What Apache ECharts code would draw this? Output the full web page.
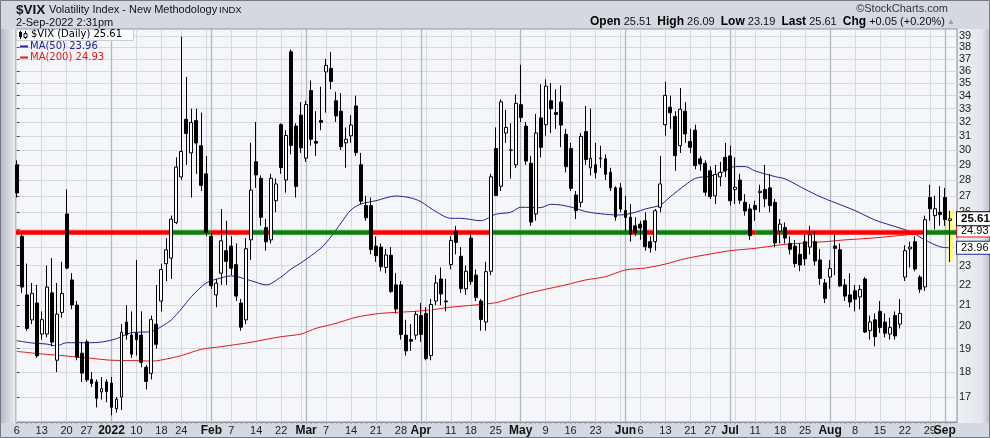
<!DOCTYPE html>
<html><head><meta charset="utf-8">
<script src="https://cdn.jsdelivr.net/npm/echarts@6/dist/echarts.min.js"></script>
<style>html,body{margin:0;padding:0;background:#d4d8e0}#c{width:990px;height:438px}</style>
</head><body><div id="c"></div><script>
// ---- data ----
const dates = ['2021-12-06','12-07','12-08','12-09','12-10','12-13','12-14','12-15','12-16','12-17','12-20','12-21','12-22','12-23','12-27','12-28','12-29','12-30','12-31',
'2022-01-03','01-04','01-05','01-06','01-07','01-10','01-11','01-12','01-13','01-14','01-18','01-19','01-20','01-21','01-24','01-25','01-26','01-27','01-28','01-31',
'02-01','02-02','02-03','02-04','02-07','02-08','02-09','02-10','02-11','02-14','02-15','02-16','02-17','02-18','02-22','02-23','02-24','02-25','02-28',
'03-01','03-02','03-03','03-04','03-07','03-08','03-09','03-10','03-11','03-14','03-15','03-16','03-17','03-18','03-21','03-22','03-23','03-24','03-25','03-28','03-29','03-30','03-31',
'04-01','04-04','04-05','04-06','04-07','04-08','04-11','04-12','04-13','04-14','04-18','04-19','04-20','04-21','04-22','04-25','04-26','04-27','04-28','04-29',
'05-02','05-03','05-04','05-05','05-06','05-09','05-10','05-11','05-12','05-13','05-16','05-17','05-18','05-19','05-20','05-23','05-24','05-25','05-26','05-27','05-31',
'06-01','06-02','06-03','06-06','06-07','06-08','06-09','06-10','06-13','06-14','06-15','06-16','06-17','06-21','06-22','06-23','06-24','06-27','06-28','06-29','06-30',
'07-01','07-05','07-06','07-07','07-08','07-11','07-12','07-13','07-14','07-15','07-18','07-19','07-20','07-21','07-22','07-25','07-26','07-27','07-28','07-29',
'08-01','08-02','08-03','08-04','08-05','08-08','08-09','08-10','08-11','08-12','08-15','08-16','08-17','08-18','08-19','08-22','08-23','08-24','08-25','08-26','08-29','08-30','08-31',
'09-01','09-02'];

const open = [29.0,24.6,21.5,20.3,21.1,19.65,19.65,21.6,18.5,20.65,25.9,22.25,21.0,18.8,19.3,17.7,17.6,17.2,17.6,
17.55,16.55,17.0,20.2,19.6,19.7,19.6,18.2,17.95,20.1,21.2,23.1,23.4,25.4,28.2,32.2,29.8,32.1,30.3,28.4,
24.6,21.5,22.6,23.8,24.05,23.05,21.1,20.3,24.4,29.2,28.1,25.1,24.4,26.7,31.8,28.0,37.6,31.7,32.5,
29.45,34.4,30.6,32.1,35.9,36.2,33.6,32.8,30.5,31.0,33.2,29.0,26.4,26.4,24.05,24.0,22.9,23.55,22.0,22.0,19.6,19.4,19.6,
20.5,20.6,18.7,21.2,22.3,21.2,23.05,24.9,23.5,21.8,24.5,22.5,21.2,20.2,22.7,30.1,27.6,31.2,30.0,29.0,
33.3,31.7,29.1,25.9,32.3,31.8,33.6,32.7,33.5,31.1,30.1,27.05,26.6,31.3,28.8,29.0,29.4,29.4,28.5,27.5,27.5,
26.1,25.7,25.2,25.3,25.5,24.3,24.3,26.3,31.8,33.1,32.4,30.3,32.8,30.6,31.4,29.4,29.1,28.6,27.0,28.2,29.5,
29.6,27.4,28.0,26.6,26.2,26.4,27.2,27.4,27.5,26.6,24.9,25.1,24.2,24.05,23.6,24.3,24.0,24.3,23.3,22.1,
22.4,24.06,23.85,22.0,21.5,21.7,21.4,22.3,19.8,20.3,20.7,20.2,19.65,20.5,20.1,22.4,23.9,24.3,22.4,21.9,26.9,25.8,26.0,
26.9,25.51];
const high = [29.3,24.8,23.1,22.1,22.0,20.7,23.0,23.4,22.1,23.2,27.4,22.6,21.2,19.3,19.4,18.0,17.7,17.8,17.7,
17.8,17.0,20.1,21.0,20.7,23.3,20.7,18.3,20.5,22.0,23.1,24.5,25.8,29.5,38.94,35.5,33.0,33.0,32.7,29.6,
24.8,22.3,26.2,25.5,24.6,24.2,21.3,24.5,30.5,32.0,28.3,25.6,28.4,28.1,31.9,31.4,37.8,31.9,33.5,
33.6,35.2,32.8,34.7,37.0,37.6,34.3,34.2,31.6,32.5,34.0,29.8,27.0,26.9,24.6,24.2,23.9,24.0,22.6,22.2,20.3,20.1,20.7,
21.1,20.9,21.3,22.5,22.9,22.3,24.6,25.2,24.0,23.0,24.8,22.8,21.3,23.2,28.4,31.6,33.7,32.9,31.9,34.1,
36.5,32.0,29.6,32.6,34.9,35.3,35.0,34.5,34.8,31.5,30.5,27.3,31.2,33.2,33.0,30.5,30.3,29.7,28.8,27.6,27.8,
27.0,26.5,25.7,25.5,26.0,24.6,26.2,29.6,35.1,34.0,32.8,34.6,33.5,31.5,31.8,29.6,29.3,28.9,29.0,29.2,30.5,
30.3,29.5,28.4,27.1,26.5,26.7,27.7,29.0,28.4,26.8,25.6,25.4,24.6,24.4,24.2,24.7,25.2,24.9,23.9,22.3,
23.3,24.7,24.2,22.3,22.6,22.0,22.0,22.4,20.5,20.6,21.2,20.6,20.4,20.7,21.3,24.1,24.3,24.6,22.5,25.8,27.7,27.0,27.6,
27.5,26.09];
const low = [26.9,21.6,19.8,20.1,18.6,19.4,19.5,19.1,18.0,20.4,22.8,20.8,18.5,17.6,17.6,17.4,16.6,16.9,16.8,
16.3,16.4,16.5,19.4,18.6,18.7,18.2,17.3,17.7,19.0,20.7,22.2,22.3,25.3,28.0,29.0,26.9,28.4,27.3,24.6,
21.8,20.9,22.0,22.0,22.5,21.2,19.8,20.1,23.3,27.5,25.2,23.8,24.2,26.0,28.4,27.2,29.7,26.9,29.8,
29.2,30.3,29.6,31.4,32.7,34.5,32.0,30.0,28.8,30.5,29.6,26.5,25.5,23.6,23.2,22.7,22.6,21.6,20.6,19.4,18.7,18.9,19.4,
19.3,18.5,18.5,21.0,21.0,20.7,22.8,23.6,21.6,21.5,22.0,21.2,19.8,19.8,22.5,27.0,27.3,30.5,28.1,28.8,
32.0,29.0,25.2,25.5,29.5,31.0,31.2,31.5,30.2,28.5,27.3,25.6,26.3,29.0,28.3,28.1,28.8,28.0,27.3,25.5,26.0,
24.9,24.3,24.6,24.4,23.8,23.7,23.8,26.0,31.0,31.5,28.6,29.8,30.5,29.8,28.7,28.6,27.0,26.8,26.5,27.6,28.2,
26.4,26.5,26.5,25.8,24.4,25.5,26.0,26.3,26.0,24.0,24.2,24.2,23.6,22.9,22.7,23.0,23.6,23.0,22.0,21.1,
21.8,22.5,21.9,21.2,20.9,20.7,20.8,19.7,19.4,19.1,19.7,19.5,19.4,19.4,19.9,22.2,22.9,22.7,21.6,21.7,25.5,25.0,25.2,
25.2,23.19];
const close = [27.18,21.89,19.90,21.58,18.69,20.31,21.89,19.29,20.57,21.57,22.87,21.01,18.63,17.96,17.68,17.54,16.95,17.33,17.22,
16.60,16.91,19.73,19.61,18.76,19.40,18.41,17.62,20.31,19.19,22.79,23.85,25.59,28.85,29.90,31.16,31.96,30.49,27.66,24.83,
21.96,22.09,24.35,23.22,22.86,21.44,19.96,23.91,27.36,28.33,25.70,24.29,28.11,27.75,28.81,31.02,30.32,27.59,30.15,
33.32,30.75,30.48,31.98,36.45,35.13,32.45,30.23,30.75,31.77,29.83,26.67,25.67,23.87,23.53,22.94,23.57,21.67,20.81,19.63,18.90,19.33,20.56,
19.63,18.57,21.03,22.10,21.55,21.16,24.37,24.26,21.82,22.70,22.17,21.37,20.32,22.68,28.21,27.02,33.52,31.60,29.99,33.40,
32.34,29.25,25.42,31.20,30.19,34.75,32.99,32.56,31.77,28.87,27.47,26.10,30.96,29.35,29.43,28.48,29.45,28.37,27.50,25.72,26.19,
25.69,24.72,24.79,25.07,24.02,23.96,26.09,27.75,34.02,32.69,29.62,32.95,31.13,30.19,28.95,29.05,27.23,26.95,28.36,28.50,28.60,
26.70,27.54,26.73,26.08,24.64,26.17,27.29,26.82,26.40,24.23,25.30,24.50,23.88,23.11,23.03,23.36,24.69,23.24,22.33,21.33,
22.84,23.93,21.95,21.44,21.15,21.29,21.77,19.74,20.20,19.53,19.95,19.69,19.95,19.56,20.60,23.80,24.00,22.82,21.78,25.56,26.21,26.21,25.87,
25.56,25.61];

// moving averages, read at sampled trading-day positions
const ma50Idx = [0,3,6,8,10,14,17,20,23,27,29,31,33,35,38,41,43,47,50,53,55,57,61,63,65,67,69,72,76,79,81,84,87,89,93,96,99,101,105,107,109,112,114,118,121,124,126,129,131,134,136,139,141,144,146,148,152,154,158,161,164,168,172,175,179,182,185,187];
const ma50Val = [19.35,19.25,19.20,19.12,19.26,19.26,19.29,19.44,19.71,19.76,19.99,20.30,20.82,21.41,22.10,22.36,22.46,22.21,22.00,22.41,22.82,23.15,23.95,24.58,25.37,26.14,26.50,26.70,26.99,26.87,26.64,26.04,25.64,25.64,25.50,25.88,26.00,26.30,26.28,26.48,26.44,26.24,26.04,25.88,25.84,26.00,26.20,26.44,26.95,27.69,28.11,28.26,28.44,28.88,28.88,28.59,28.22,28.07,27.41,26.95,26.58,26.10,25.54,25.25,24.87,24.40,24.02,23.96];
const ma200Idx = [0,5,10,15,19,25,27,29,33,37,41,47,50,53,57,60,64,68,72,75,79,83,87,92,96,99,102,106,110,114,118,122,126,130,134,139,143,148,153,157,162,166,171,176,180,183,187];
const ma200Val = [18.88,18.77,18.68,18.58,18.50,18.48,18.46,18.51,18.70,18.97,19.09,19.28,19.41,19.53,19.65,19.91,20.14,20.42,20.58,20.64,20.69,20.77,20.90,21.01,21.12,21.33,21.55,21.78,22.00,22.25,22.42,22.77,22.87,23.08,23.37,23.62,23.80,23.93,24.12,24.21,24.30,24.40,24.49,24.62,24.73,24.83,24.93];

// horizontal level line (red = below / green = above)
const levelValue = 24.82;
const levelFrom = [-0.14,30.9,38.9,46.9,49.8,50.9,70.9,95.05,123.0,124.0,126.0,128.1,147.3,148.1,152.1,153.1,154.1,182.2];
const levelTo   = [30.9,38.9,46.9,49.8,50.9,70.9,95.05,123.0,124.0,126.0,128.1,147.3,148.1,152.1,153.1,154.1,182.2,188.44];
const levelIsGreen = [0,1,0,1,0,1,0,1,0,1,0,1,0,1,0,1,0,1];

// axis ticks
const weekLabelIdx  = [0,5,10,14,24,29,33,43,48,53,62,67,72,77,87,91,96,106,111,116,125,130,135,139,148,153,158,168,173,178,183];
const weekLabelText = ['6','13','20','27','10','18','24','7','14','22','7','14','21','28','11','18','25','9','16','23','6','13','21','27','11','18','25','8','15','22','29'];
const monthStarts = [19,39,58,81,101,122,143,163,186];
const monthText   = ['2022','Feb','Mar','Apr','May','Jun','Jul','Aug','Sep'];
const weekStarts = [0,5,10,14,19,24,29,33,38,43,48,53,57,62,67,72,77,82,87,91,96,101,106,111,116,121,125,130,135,139,144,148,153,158,163,168,173,178,183];
const yTicks = [17,18,19,20,21,22,23,24,25,26,27,28,29,30,31,32,33,34,35,36,37,38,39];
const yLabels = [17,18,19,20,21,22,23,26,27,28,29,30,31,32,33,34,35,36,37,38,39];

const lastClose = 25.61, ma50Last = 23.96, ma200Last = 24.93;

// ---- chart ----
const X_MIN = -0.14, X_MAX = 188.44, Y_MIN = 16.05, Y_MAX = 39.63;
const FONT = 'Liberation Sans, Arial, sans-serif';
const chart = echarts.init(document.getElementById('c'), null, {renderer: 'canvas', width: 990, height: 438});
const candleData = close.map((c, i) => [i, open[i], c, low[i], high[i]]);

function tag(value, color, bold) {
  return {
    silent: true, symbol: ['none', 'none'], animation: false,
    lineStyle: {color: 'rgba(0,0,0,0)', width: 1},
    label: {show: true, position: 'end', distance: 0, formatter: value.toFixed(2),
      color: '#000', fontSize: bold ? 11.5 : 11, fontWeight: bold ? 'bold' : 'normal', fontFamily: FONT,
      backgroundColor: '#ffffff', borderColor: color, borderWidth: 1, padding: [1, 2, 0, 4]},
    data: [{yAxis: value}]
  };
}

const levelSegments = levelFrom.map((f, k) => [
  {coord: [f, levelValue], lineStyle: {color: levelIsGreen[k] ? '#078207' : '#ff0000', width: 4.5, type: 'solid'}},
  {coord: [levelTo[k], levelValue]}
]);

const xBase = {type: 'value', min: X_MIN, max: X_MAX, gridIndex: 0, position: 'bottom'};

const option = {
  animation: false,
  backgroundColor: '#d4d8e0',
  grid: {left: 16, right: 33, top: 29, bottom: 16, show: true, backgroundColor: '#f4f6fa', borderColor: '#8e939e', borderWidth: 1},
  xAxis: [
    Object.assign({}, xBase, {
      axisLine: {show: true, lineStyle: {color: '#8e939e'}},
      axisTick: {show: false, customValues: weekStarts},
      splitLine: {show: true, lineStyle: {color: '#d6d9e0', width: 1}},
      axisLabel: {show: true, customValues: weekLabelIdx, margin: 3, color: '#222', fontSize: 11, fontFamily: FONT,
        hideOverlap: false,
        formatter: function (v) {
          const k = weekLabelIdx.indexOf(Math.round(v));
          return k < 0 ? '' : weekLabelText[k];
        }}
    }),
    Object.assign({}, xBase, {
      axisLine: {show: false},
      axisTick: {show: false, customValues: monthStarts},
      splitLine: {show: true, lineStyle: {color: '#b3b7c1', width: 1.3}},
      axisLabel: {show: true, customValues: monthStarts, margin: 3, color: '#111', fontSize: 12, fontWeight: 'bold', fontFamily: FONT,
        hideOverlap: false,
        formatter: function (v) {
          const k = monthStarts.indexOf(Math.round(v));
          return k < 0 ? '' : monthText[k];
        }}
    }),
    Object.assign({}, xBase, {
      axisLine: {show: false}, axisLabel: {show: false}, splitLine: {show: false},
      axisTick: {show: true, customValues: candleData.map(d => d[0]), length: 2, lineStyle: {color: '#9aa0aa'}}
    })
  ],
  yAxis: {
    type: 'log', logBase: 10, min: Y_MIN, max: Y_MAX, position: 'right',
    axisLine: {show: false},
    axisTick: {show: true, customValues: yTicks, length: 3, lineStyle: {color: '#555'}},
    splitLine: {show: true, lineStyle: {color: '#d6d9e0', width: 1}},
    axisLabel: {customValues: yLabels, margin: 2, color: '#222', fontSize: 11, fontFamily: FONT, hideOverlap: false,
      formatter: v => String(Math.round(v))}
  },
  series: [
    {name: 'MA(200)', type: 'line', data: ma200Idx.map((x, k) => [x, ma200Val[k]]), symbol: 'none', smooth: 0.3,
      lineStyle: {color: '#e01818', width: 1}, z: 2, markLine: tag(ma200Last, '#e01818', false)},
    {name: 'MA(50)', type: 'line', data: ma50Idx.map((x, k) => [x, ma50Val[k]]), symbol: 'none', smooth: 0.3,
      lineStyle: {color: '#22228f', width: 1}, z: 2, markLine: tag(ma50Last, '#22228f', false)},
    {name: 'level', type: 'line', data: [], z: 3,
      markLine: {silent: true, symbol: ['none', 'none'], label: {show: false}, data: levelSegments}},
    {name: 'highlight', type: 'line', data: [], z: 4,
      markArea: {silent: true, itemStyle: {color: '#ffff66', opacity: 1},
        data: [[{xAxis: 186.7, yAxis: high[187]}, {xAxis: 187.6, yAxis: low[187]}]]}},
    {name: '$VIX', type: 'candlestick', data: candleData, z: 5,
      dimensions: ['idx', 'open', 'close', 'lowest', 'highest'],
      encode: {x: 0, y: [1, 2, 3, 4]},
      barWidth: 3.4,
      itemStyle: {color: '#ffffff', color0: '#000000', borderColor: '#000000', borderColor0: '#000000', borderWidth: 1},
      markLine: tag(lastClose, '#000000', true)}
  ],
  graphic: [
    {type: 'rect', z: -5, silent: true, shape: {x: 958, y: 29, width: 32, height: 394},
      style: {fill: new echarts.graphic.LinearGradient(0, 0, 1, 0, [{offset: 0, color: '#eef0f4'}, {offset: 0.75, color: '#e2e5eb'}, {offset: 1, color: '#b8bdc8'}])}},
    {type: 'rect', z: -5, silent: true, shape: {x: 0, y: 29, width: 16, height: 394},
      style: {fill: new echarts.graphic.LinearGradient(0, 0, 1, 0, [{offset: 0, color: '#b4bac6'}, {offset: 1, color: '#eceef3'}])}},
    {type: 'rect', z: -4, silent: true, shape: {x: 0.5, y: 0.5, width: 989, height: 437}, style: {fill: 'none', stroke: '#737985', lineWidth: 1}},
    // header
    {type: 'text', z: 10, left: 16, top: 3, style: {text: '$VIX', font: 'bold 13.5px ' + FONT, fill: '#111'}},
    {type: 'text', z: 10, left: 49, top: 4, style: {text: 'Volatility Index - New Methodology', font: '11px ' + FONT, fill: '#111'}},
    {type: 'text', z: 10, left: 219, top: 5, style: {text: 'INDX', font: '9.5px ' + FONT, fill: '#111'}},
    {type: 'text', z: 10, left: 16, top: 17, style: {text: '2-Sep-2022 2:31pm', font: '11px ' + FONT, fill: '#111'}},
    {type: 'text', z: 10, right: 42, top: 3, style: {text: '\u00A9StockCharts.com', font: '11px ' + FONT, fill: '#333'}},
    {type: 'text', z: 10, right: 45, top: 16, style: {
      text: '{b|Open} 25.51  {b|High} 26.09  {b|Low} 23.19  {b|Last} 25.61  {b|Chg} +0.05 (+0.20%)',
      font: '11px ' + FONT, fill: '#111', rich: {b: {fontWeight: 'bold', fontSize: 12, fontFamily: FONT, fill: '#000'}}}},
    {type: 'text', z: 10, left: 947, top: 18, style: {text: '\u25B2', font: '8px ' + FONT, fill: '#9a9ea8'}},
    // legend
    {type: 'rect', z: 10, silent: true, shape: {x: 16.5, y: 29.5, width: 117, height: 11}, style: {fill: '#fafbfd', stroke: '#c8ccd4', lineWidth: 1}},
    {type: 'line', z: 11, shape: {x1: 20.5, y1: 31, x2: 20.5, y2: 39}, style: {stroke: '#000', lineWidth: 1}},
    {type: 'rect', z: 11, shape: {x: 19, y: 32, width: 3, height: 5}, style: {fill: '#000'}},
    {type: 'line', z: 11, shape: {x1: 25.5, y1: 31, x2: 25.5, y2: 39}, style: {stroke: '#000', lineWidth: 1}},
    {type: 'rect', z: 11, shape: {x: 24, y: 33.5, width: 3, height: 4}, style: {fill: '#fff', stroke: '#000', lineWidth: 1}},
    {type: 'text', z: 11, left: 31, top: 29, style: {text: '$VIX (Daily) 25.61', font: '10px DejaVu Sans', fill: '#000'}},
    {type: 'line', z: 11, shape: {x1: 20, y1: 46.5, x2: 28, y2: 46.5}, style: {stroke: '#22228f', lineWidth: 2}},
    {type: 'text', z: 11, left: 30, top: 41, style: {text: 'MA(50) 23.96', font: '10px DejaVu Sans', fill: '#22228f'}},
    {type: 'line', z: 11, shape: {x1: 20, y1: 57.5, x2: 28, y2: 57.5}, style: {stroke: '#e01818', lineWidth: 2}},
    {type: 'text', z: 11, left: 30, top: 52, style: {text: 'MA(200) 24.93', font: '10px DejaVu Sans', fill: '#e01818'}}
  ]
};
chart.setOption(option);
</script></body></html>
